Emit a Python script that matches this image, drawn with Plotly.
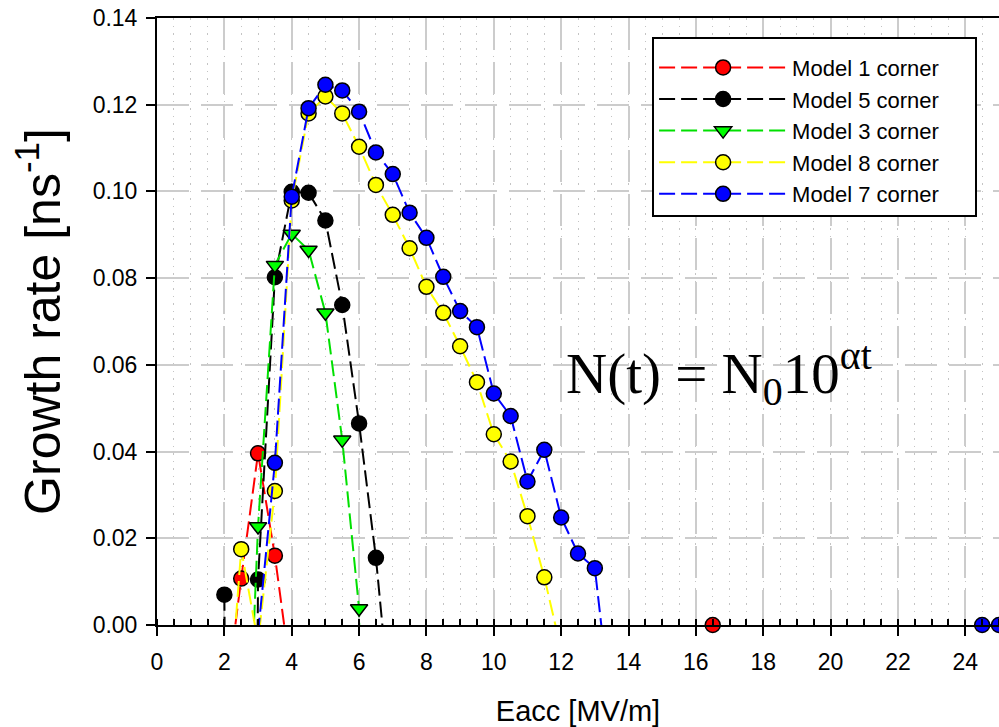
import plotly.graph_objects as go

# ---- data (Eacc in MV/m, growth rate in 1/ns); negative values lie below the axis and are clipped
m1_x = [2.0, 2.5, 3.0, 3.5, 4.0, 16.5]
m1_y = [-0.020, 0.0107, 0.0396, 0.0160, -0.013, 0.0]

m5_x = [2.0, 2.5, 3.0, 3.5, 4.0, 4.5, 5.0, 5.5, 6.0, 6.5, 7.0]
m5_y = [0.0070, -0.5, 0.0105, 0.0802, 0.0999, 0.0997, 0.0933, 0.0738, 0.0465, 0.0155, -0.025]

m3_x = [2.5, 3.0, 3.5, 4.0, 4.5, 5.0, 5.5, 6.0, 6.5]
m3_y = [-0.07, 0.0227, 0.0830, 0.0902, 0.0865, 0.0720, 0.0427, 0.0038, -0.5]

m8_x = [2.0, 2.5, 3.0, 3.5, 4.0, 4.5, 5.0, 5.5, 6.0, 6.5, 7.0, 7.5, 8.0, 8.5, 9.0, 9.5, 10.0, 10.5, 11.0, 11.5, 12.0]
m8_y = [-0.034, 0.0175, -0.004, 0.0309, 0.0979, 0.1180, 0.1219, 0.1180, 0.1103, 0.1015, 0.0946, 0.0869, 0.0780,
        0.0720, 0.0643, 0.0560, 0.0440, 0.0377, 0.0251, 0.0110, -0.0057]

m7_x = [3.0, 3.5, 4.0, 4.5, 5.0, 5.5, 6.0, 6.5, 7.0, 7.5, 8.0, 8.5, 9.0, 9.5, 10.0, 10.5, 11.0, 11.5, 12.0, 12.5,
        13.0, 13.5, 24.5, 25.0]
m7_y = [-0.002, 0.0374, 0.0988, 0.1192, 0.1246, 0.1233, 0.1184, 0.1090, 0.1040, 0.0951, 0.0893, 0.0803, 0.0724,
        0.0687, 0.0534, 0.0482, 0.0331, 0.0404, 0.0248, 0.0165, 0.0131, -0.021, 0.0, 0.0]

series = [
    ("Model 1 corner", m1_x, m1_y, "#ff0000", "#ff0000", "circle"),
    ("Model 5 corner", m5_x, m5_y, "#000000", "#000000", "circle"),
    ("Model 3 corner", m3_x, m3_y, "#00e000", "#00ff00", "triangle-down"),
    ("Model 8 corner", m8_x, m8_y, "#ffff00", "#ffff00", "circle"),
    ("Model 7 corner", m7_x, m7_y, "#0000ff", "#0000ff", "circle"),
]

x_ticks = list(range(0, 25, 2))
y_ticks = [0.0, 0.02, 0.04, 0.06, 0.08, 0.10, 0.12, 0.14]

DASH = "16px,6px"
PAD = "&nbsp;" * 5
fig = go.Figure()
for name, xs, ys, lc, mc, sym in series:
    fig.add_trace(go.Scatter(x=xs, y=ys, mode="lines", showlegend=False, hoverinfo="skip",
                             line=dict(color=lc, width=2, dash=DASH)))
    px = [a for a, b in zip(xs, ys) if b >= 0]
    py = [b for b in ys if b >= 0]
    fig.add_trace(go.Scatter(x=px, y=py, mode="markers", showlegend=False, cliponaxis=False,
                             marker=dict(symbol=sym, size=15, color=mc, line=dict(color="black", width=1.5))))
for name, xs, ys, lc, mc, sym in series:
    fig.add_trace(go.Scatter(x=[None], y=[None], mode="lines+markers", name=name + PAD,
                             line=dict(color=lc, width=2, dash=DASH),
                             marker=dict(symbol=sym, size=15, color=mc, line=dict(color="black", width=1.5))))

fig.add_annotation(x=16.7, y=0.058, xref="x", yref="y", showarrow=False,
                   text="N(t) = N<sub>0</sub>10<sup>αt</sup>",
                   font=dict(family="Liberation Serif", size=57, color="black"),
                   xanchor="center", yanchor="middle")

fig.update_layout(
    width=999, height=727,
    margin=dict(l=157, r=0, t=18, b=102),
    paper_bgcolor="white", plot_bgcolor="white",
    font=dict(family="Liberation Sans", color="black"),
    legend=dict(x=0.588, y=0.969, xanchor="left", yanchor="top",
                bordercolor="black", borderwidth=2, bgcolor="white",
                font=dict(family="Liberation Sans", size=22, color="black"),
                title=dict(text=" ", font=dict(size=6)),
                itemwidth=128, tracegroupgap=0),
    xaxis=dict(range=[0, 25], tickvals=x_ticks, ticktext=[str(v) for v in x_ticks],
               ticks="outside", ticklen=9, tickwidth=2, tickcolor="black",
               showline=True, linecolor="black", linewidth=2, mirror=True,
               showgrid=True, gridcolor="#cccccc", gridwidth=2, griddash="32px,12px",
               zeroline=False, tickfont=dict(size=23), ticklabelstandoff=6,
               minor=dict(dtick=0.5, ticks="inside", ticklen=6, tickwidth=2, tickcolor="black",
                          showgrid=True, gridcolor="#c4c4c4", gridwidth=1, griddash="1.5px,6px"),
               title=dict(text="Eacc [MV/m]", font=dict(size=29), standoff=27)),
    yaxis=dict(range=[0, 0.14], tickvals=y_ticks, ticktext=[f"{v:.2f}" for v in y_ticks],
               ticks="outside", ticklen=9, tickwidth=2, tickcolor="black",
               showline=True, linecolor="black", linewidth=2,
               showgrid=True, gridcolor="#cccccc", gridwidth=2, griddash="32px,12px",
               zeroline=False, tickfont=dict(size=23), ticklabelstandoff=4,
               title=dict(text="Growth rate [ns<sup>-1</sup>]", font=dict(size=50), standoff=16)),
)

fig.write_html("out.html")
